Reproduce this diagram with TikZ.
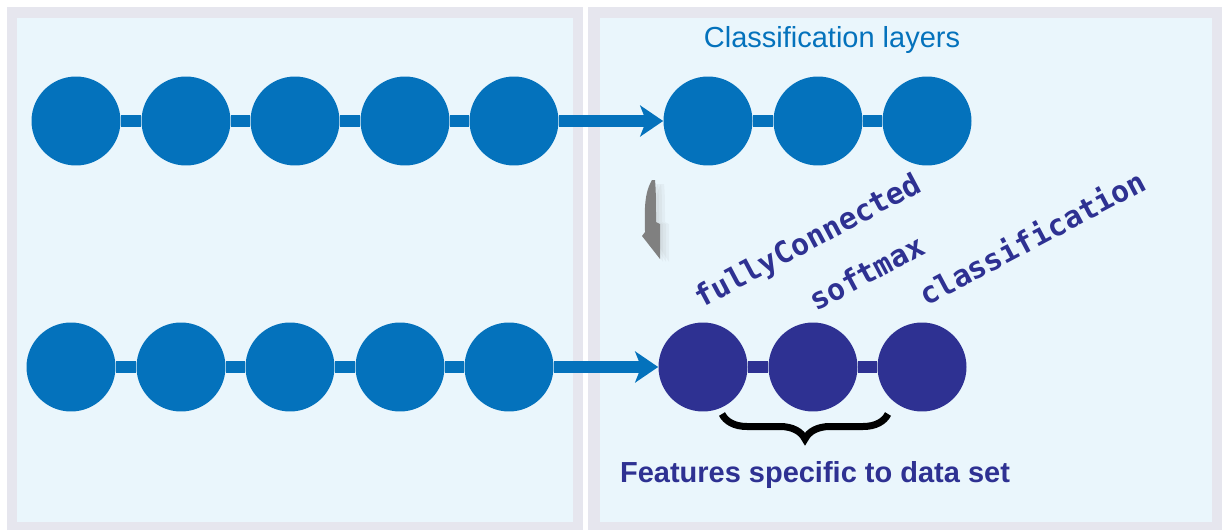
\documentclass[tikz,border=0pt]{standalone}
\usepackage{fontspec}
\newfontfamily\headfont{Liberation Sans}
\newfontfamily\layerfont{DejaVu Sans Mono}
\usetikzlibrary{arrows.meta, decorations.pathreplacing}
\definecolor{framegray}{RGB}{230,230,238}
\definecolor{panelblue}{RGB}{234,246,252}
\definecolor{netblue}{RGB}{4,114,188}
\definecolor{newindigo}{RGB}{46,49,146}
\definecolor{hintgray}{RGB}{128,128,128}

\begin{document}
\begin{tikzpicture}[x=0.02cm, y=-0.02cm,
  layer/.style={circle, fill=netblue, minimum size=1.78cm, inner sep=0pt},
  newlayer/.style={layer, fill=newindigo},
  link/.style={draw=netblue, line width=0.24cm},
  arrow/.style={link, -{Stealth[length=0.46cm, width=0.62cm, inset=0.12cm]}, netblue},
  lname/.style={font=\layerfont\bfseries\fontsize{17}{17}\selectfont, text=newindigo, rotate=28, anchor=base west, inner sep=0pt},
  title/.style={font=\headfont\fontsize{16.5}{18}\selectfont, text=netblue, anchor=base, inner sep=0pt}
]
\useasboundingbox (0,0) rectangle (1227,531);
% panels
\fill[framegray] (7,7) rectangle (583,530);
\fill[panelblue] (17,18) rectangle (573,522);
\fill[framegray] (588,7) rectangle (1222,530);
\fill[panelblue] (600,18) rectangle (1212,522);
\node[title] (clstitle) at (832,47) {Classification layers};
% pretrained network
\node[layer] (net1) at (76,121) {};
\node[layer] (net2) at (186,121) {};
\node[layer] (net3) at (295,121) {};
\node[layer] (net4) at (405,121) {};
\node[layer] (net5) at (514,121) {};
\node[layer] (cls1) at (708,121) {};
\node[layer] (cls2) at (818,121) {};
\node[layer] (cls3) at (927,121) {};
\draw[link] (net1) -- (net2);
\draw[link] (net2) -- (net3);
\draw[link] (net3) -- (net4);
\draw[link] (net4) -- (net5);
\draw[arrow] (net5) -- (cls1);
\draw[link] (cls1) -- (cls2);
\draw[link] (cls2) -- (cls3);
% replace arrow
\foreach \s in {3,6,9}
  \fill[hintgray, opacity=0.07, xshift=\s*0.02cm] (652,184) .. controls (644,198) and (646,216) .. (646,232) -- (643,236) -- (660,262) -- (660,224) -- (656,222) .. controls (656,205) and (656,192) .. (655,184) -- cycle;
\fill[hintgray] (652,180) .. controls (643,195) and (645,215) .. (645,232) -- (642,236) -- (660,259) -- (660,224) -- (656,222) .. controls (656,205) and (656,190) .. (655,180) -- cycle;
% transferred network
\node[layer] (tnet1) at (71,367) {};
\node[layer] (tnet2) at (181,367) {};
\node[layer] (tnet3) at (290,367) {};
\node[layer] (tnet4) at (400,367) {};
\node[layer] (tnet5) at (509,367) {};
\node[newlayer] (fc) at (703,367) {};
\node[newlayer] (smax) at (813,367) {};
\node[newlayer] (cout) at (922,367) {};
\draw[link] (tnet1) -- (tnet2);
\draw[link] (tnet2) -- (tnet3);
\draw[link] (tnet3) -- (tnet4);
\draw[link] (tnet4) -- (tnet5);
\draw[arrow] (tnet5) -- (fc);
\draw[link, draw=newindigo] (fc) -- (smax);
\draw[link, draw=newindigo] (smax) -- (cout);
\node[lname] (fcname) at (701,309) {fullyConnected};
\node[lname] (smname) at (816,312) {softmax};
\node[lname] (coname) at (926,307) {classification};
% brace
\coordinate (bl) at (722,414);
\coordinate (br) at (888,414);
\draw[line width=0.14cm, decorate, decoration={brace, mirror, amplitude=0.5cm}] (bl) -- (br);
\node[title, font=\headfont\bfseries\fontsize{16.5}{18}\selectfont, text=newindigo] (newtext) at (815,482) {Features specific to data set};
\end{tikzpicture}
\end{document}
